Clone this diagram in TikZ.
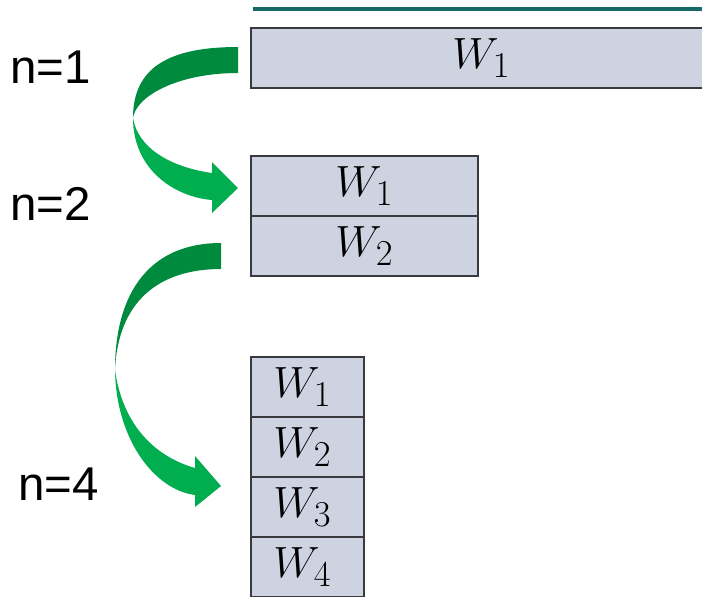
\documentclass[tikz,border=0pt]{standalone}
\usepackage{fontspec}
\setmainfont{Liberation Sans}
\usetikzlibrary{positioning}

\definecolor{cellfill}{RGB}{205,211,224}
\definecolor{celldraw}{RGB}{58,58,62}
\definecolor{rulecol}{RGB}{24,106,104}
\definecolor{arcdark}{RGB}{0,138,62}
\definecolor{arclight}{RGB}{0,174,79}

\tikzset{
  wcell/.style={draw=celldraw,fill=cellfill,line width=0.85pt,minimum height=1.2cm,
    inner sep=0pt,outer sep=0pt,font=\fontsize{28}{32}\selectfont},
  nlabel/.style={anchor=base west,inner sep=0pt,font=\fontsize{27}{31}\selectfont},
}

\begin{document}
\begin{tikzpicture}[x=0.02cm,y=-0.02cm]
	\useasboundingbox (0,0) rectangle (702,596);
	\draw[color=rulecol,line width=2.2pt] (253,9) -- (702,9);
	% rows of W
	\node [wcell,anchor=north west,minimum width=9.22cm,text width=8.9cm,align=center] (one) at (251,28) {$W_1$\hspace*{0.5cm}};
	\node [wcell,anchor=north west,minimum width=4.54cm] (twoA) at (251,156) {$W_1$};
	\node [wcell,below=0pt of twoA,minimum width=4.54cm] (twoB) {$W_2$};
	\node [wcell,anchor=north west,minimum width=2.26cm] (fourA) at (251,357) {$W_1$\hspace*{0.2cm}};
	\node [wcell,below=0pt of fourA,minimum width=2.26cm] (fourB) {$W_2$\hspace*{0.2cm}};
	\node [wcell,below=0pt of fourB,minimum width=2.26cm] (fourC) {$W_3$\hspace*{0.2cm}};
	\node [wcell,below=0pt of fourC,minimum width=2.26cm] (fourD) {$W_4$\hspace*{0.2cm}};
	\node [nlabel] (nOne) at (10,83) {n=1};
	\node [nlabel] (nTwo) at (10,220) {n=2};
	\node [nlabel] (nFour) at (18,500) {n=4};
	% green arrows
	\fill[arcdark] (238,47) .. controls (168,47) and (133,68) .. (133,118)
		.. controls (136,96) and (178,73) .. (238,73) -- cycle;
	\fill[arclight] (133,118) .. controls (133,170) and (175,197) .. (212,200)
		-- (212,213) -- (238,188) -- (212,162) -- (212,173)
		.. controls (170,167) and (138,148) .. (133,118) -- cycle;
	\fill[arcdark] (221,243) .. controls (150,243) and (115,292) .. (115,370)
		.. controls (118,302) and (158,269) .. (221,269) -- cycle;
	\fill[arclight] (115,370) .. controls (116,440) and (155,490) .. (195,495)
		-- (195,507) -- (221,486) -- (195,456) -- (195,468)
		.. controls (150,455) and (122,420) .. (115,370) -- cycle;
\end{tikzpicture}
\end{document}
